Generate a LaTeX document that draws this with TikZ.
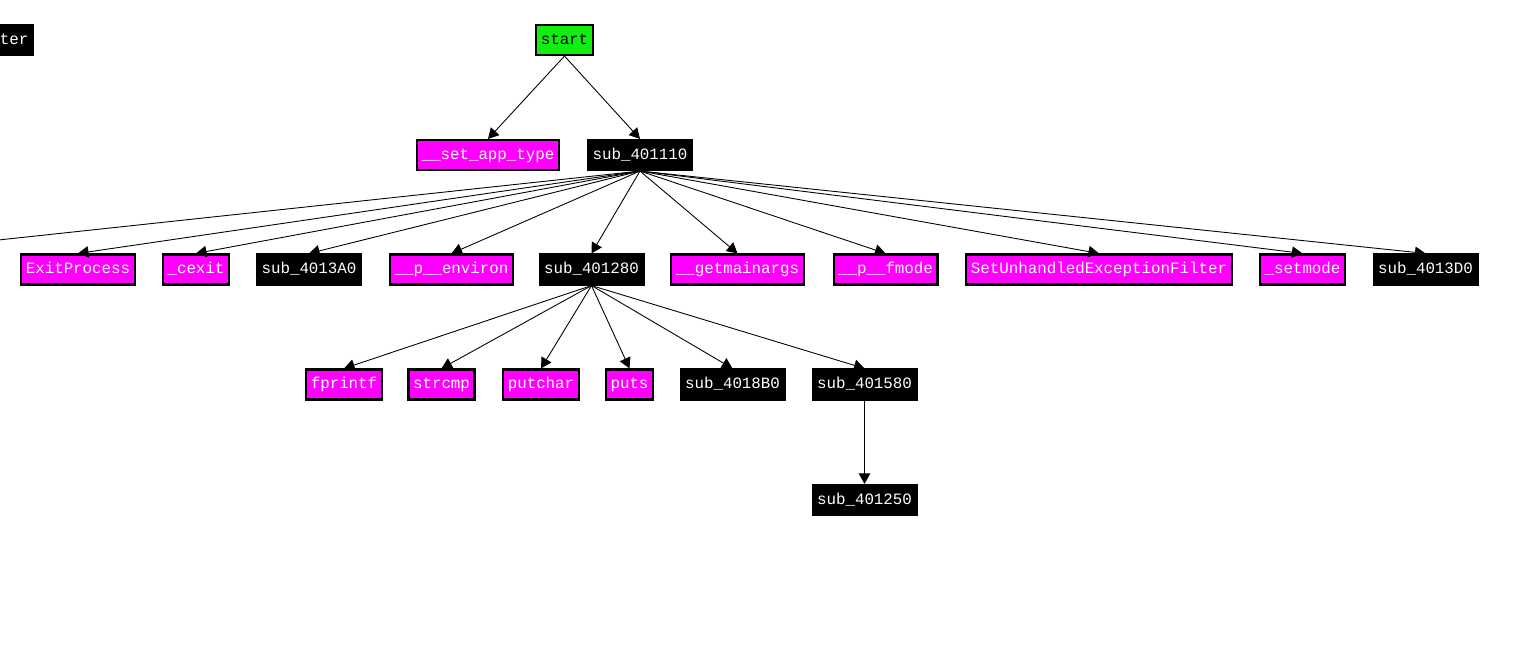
\documentclass[tikz,border=0pt]{standalone}
\usepackage{fontspec}
\setmonofont{Liberation Mono}
\usetikzlibrary{arrows.meta}
\definecolor{impmag}{RGB}{255,0,255}
\definecolor{startgreen}{RGB}{17,238,17}

\begin{document}
\begin{tikzpicture}[
        x=0.02cm, y=-0.02cm,
        every node/.style={font=\ttfamily\fontsize{9}{9}\selectfont},
        box/.style={draw=black, line width=1.2pt, minimum height=0.6cm, inner xsep=0.09cm, inner ysep=0pt, text height=6.5pt, text depth=1.5pt},
        imp/.style={box, fill=impmag, text=white},
        subr/.style={box, fill=black, text=white},
        call/.style={-{Triangle[width=6.5pt,length=6pt]}, line width=0.5pt}
      ]
      \useasboundingbox (0,0) rectangle (1525,671);
      \clip (0,0) rectangle (1525,671);
      \node[subr, anchor=east] (ter) at (34,40) {ter};
      \node[box, fill=startgreen] (start) at (564.5,40) {start};
      \node[imp] (setapp) at (488,155) {\_\_set\_app\_type};
      \node[subr] (s110) at (640,155) {sub\_401110};

      \node[imp] (exitp) at (78,269.5) {ExitProcess};
      \node[imp] (cexit) at (196,269.5) {\_cexit};
      \node[subr] (s13a0) at (309,269.5) {sub\_4013A0};
      \node[imp] (environ) at (451.5,269.5) {\_\_p\_\_environ};
      \node[subr] (s280) at (591.5,269.5) {sub\_401280};
      \node[imp] (getmain) at (737.5,269.5) {\_\_getmainargs};
      \node[imp] (fmode) at (885.5,269.5) {\_\_p\_\_fmode};
      \node[imp] (seh) at (1099,269.5) {SetUnhandledExceptionFilter};
      \node[imp] (setmode) at (1302.5,269.5) {\_setmode};
      \node[subr] (s13d0) at (1425.5,269.5) {sub\_4013D0};
      \coordinate (offleft) at (-20,242);

      \node[imp] (fprintf) at (344,384.5) {fprintf};
      \node[imp] (strcmp) at (441.5,384.5) {strcmp};
      \node[imp] (putchar) at (541,384.5) {putchar};
      \node[imp] (puts) at (629.5,384.5) {puts};
      \node[subr] (s18b0) at (732.5,384.5) {sub\_4018B0};
      \node[subr] (s580) at (864.5,384.5) {sub\_401580};
      \node[subr] (s250) at (864.5,500) {sub\_401250};

      \draw[call] (start.south) -- (setapp.north);
      \draw[call] (start.south) -- (s110.north);
      \foreach \t in {offleft,exitp,cexit,s13a0,environ,s280,getmain,fmode,seh,setmode,s13d0}
        \draw[call] (s110.south) -- (\t.north);
      \foreach \t in {fprintf,strcmp,putchar,puts,s18b0,s580}
        \draw[call] (s280.south) -- (\t.north);
      \draw[call] (s580.south) -- (s250.north);
    \end{tikzpicture}
\end{document}
